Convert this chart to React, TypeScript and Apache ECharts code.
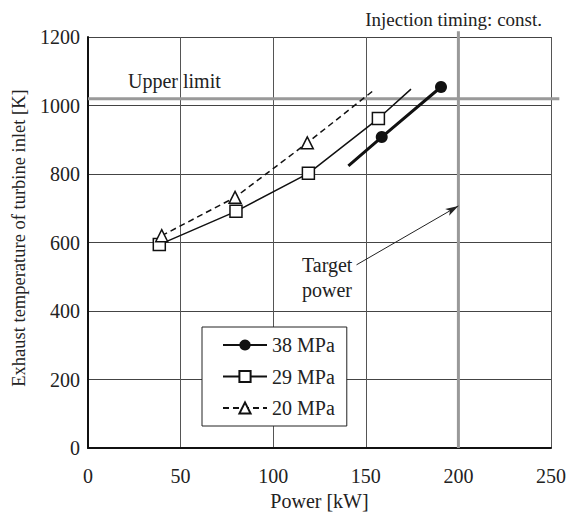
import React, { useEffect, useRef } from "react";
import * as echarts from "echarts";

const xTicks = [0, 50, 100, 150, 200, 250];
const yTicks = [0, 200, 400, 600, 800, 1000, 1200];
const s38: [number, number][] = [[140.6, 824], [158.6, 908], [190.6, 1054]];
const s29: [number, number][] = [[38.5, 594], [79.9, 691], [119, 802], [156.8, 962], [174.4, 1048]];
const s20: [number, number][] = [[39.8, 620], [79.4, 732], [118.4, 891], [153.7, 1042]];
const upperLimit = 1020;
const upperLimitExtent: [number, number] = [0, 254.5];
const targetPower = 200;
const targetExtent: [number, number] = [0, 1217];
const arrowFrom: [number, number] = [145, 535];
const arrowTo: [number, number] = [200, 707];

const FONT = "'Liberation Serif', 'Times New Roman', serif";
const FS = 20;

export default function App() {
  const ref = useRef<HTMLDivElement>(null);
  useEffect(() => {
    if (!ref.current) return;
    document.body.style.margin = "0";
    const chart = echarts.init(ref.current, null, { renderer: "svg" });
    const mk = (d: [number, number][], noFirst: boolean, noLast: boolean) =>
      d.map((p, i) => {
        if ((noFirst && i === 0) || (noLast && i === d.length - 1)) {
          return { value: p, symbol: "none" };
        }
        return { value: p };
      });
    chart.setOption({
      animation: false,
      backgroundColor: "#fff",
      textStyle: { fontFamily: FONT },
      grid: { left: 88, right: 18, top: 37, bottom: 66 },
      title: {
        text: "Injection timing: const.",
        right: 22,
        top: 5,
        textStyle: { fontFamily: FONT, fontSize: 19, fontWeight: "normal", color: "#222" },
      },
      legend: {
        orient: "vertical",
        left: 202,
        top: 327,
        itemWidth: 44,
        itemHeight: 14,
        itemGap: 11.5,
        padding: [8, 12, 8, 20],
        borderColor: "#222",
        borderWidth: 1,
        backgroundColor: "#fff",
        textStyle: { fontFamily: FONT, fontSize: FS, color: "#222" },
        data: ["38 MPa", "29 MPa", "20 MPa"],
      },
      xAxis: {
        type: "value",
        min: 0,
        max: 250,
        interval: 50,
        name: "Power [kW]",
        nameLocation: "middle",
        nameGap: 37,
        nameTextStyle: { fontFamily: FONT, fontSize: FS, color: "#222" },
        axisLine: { lineStyle: { color: "#111", width: 2 } },
        axisTick: { show: false },
        axisLabel: { fontFamily: FONT, fontSize: FS, color: "#222", margin: 18, formatter: (v: number) => String(v) },
        splitLine: { lineStyle: { color: "#555", width: 1 } },
      },
      yAxis: {
        type: "value",
        min: 0,
        max: 1200,
        interval: 200,
        axisLine: { show: true, lineStyle: { color: "#111", width: 2 } },
        axisTick: { show: false },
        axisLabel: { fontFamily: FONT, fontSize: FS, color: "#222", margin: 8, formatter: (v: number) => String(v) },
        splitLine: { lineStyle: { color: "#444", width: 1 } },
      },
      series: [
        {
          name: "38 MPa",
          type: "line",
          data: mk(s38, true, false),
          symbol: "circle",
          symbolSize: 12,
          itemStyle: { color: "#111" },
          lineStyle: { color: "#111", width: 3 },
          z: 5,
        },
        {
          name: "29 MPa",
          type: "line",
          data: mk(s29, false, true),
          symbol: "rect",
          symbolSize: 12,
          itemStyle: { color: "#fff", borderColor: "#111", borderWidth: 1.5 },
          lineStyle: { color: "#111", width: 1.5 },
          z: 5,
        },
        {
          name: "20 MPa",
          type: "line",
          data: mk(s20, false, true),
          symbol: "triangle",
          symbolSize: 12,
          itemStyle: { color: "#fff", borderColor: "#111", borderWidth: 1.5 },
          lineStyle: { color: "#111", width: 1.5, type: [6, 4] },
          z: 5,
        },
        {
          type: "line",
          data: [],
          silent: true,
          z: 3,
          markLine: {
            silent: true,
            symbol: "none",
            animation: false,
            label: { show: false },
            data: [
              [
                { coord: arrowFrom, symbol: "none", lineStyle: { color: "#222", width: 1, type: "solid" } },
                { coord: arrowTo, symbol: "arrow", symbolSize: [6, 13] },
              ],
            ],
          },
        },
      ],
    });

    const ul0 = chart.convertToPixel({ gridIndex: 0 }, [upperLimitExtent[0], upperLimit]) as number[];
    const ul1 = chart.convertToPixel({ gridIndex: 0 }, [upperLimitExtent[1], upperLimit]) as number[];
    const tp0 = chart.convertToPixel({ gridIndex: 0 }, [targetPower, targetExtent[0]]) as number[];
    const tp1 = chart.convertToPixel({ gridIndex: 0 }, [targetPower, targetExtent[1]]) as number[];

    chart.setOption({
      graphic: [
        {
          type: "line",
          z: 3,
          silent: true,
          shape: { x1: ul0[0], y1: ul0[1], x2: ul1[0], y2: ul1[1] },
          style: { stroke: "#999", lineWidth: 3 },
        },
        {
          type: "line",
          z: 3,
          silent: true,
          shape: { x1: tp0[0], y1: tp0[1], x2: tp1[0], y2: tp1[1] },
          style: { stroke: "#999", lineWidth: 3 },
        },
        {
          type: "text",
          left: 128,
          top: 71,
          style: { text: "Upper limit", font: `${FS}px ${FONT}`, fill: "#222" },
        },
        {
          type: "text",
          left: 302,
          top: 252,
          style: { text: "Target\npower", font: `${FS}px ${FONT}`, fill: "#222", lineHeight: 25, align: "left" },
        },
        {
          type: "text",
          x: 19,
          y: 238,
          rotation: Math.PI / 2,
          style: {
            text: "Exhaust temperature of turbine inlet [K]",
            font: `18.5px ${FONT}`,
            fill: "#222",
            align: "center",
            verticalAlign: "middle",
          },
        },
      ],
    });
    return () => chart.dispose();
  }, []);
  return <div ref={ref} style={{ width: 569, height: 516 }} />;
}
